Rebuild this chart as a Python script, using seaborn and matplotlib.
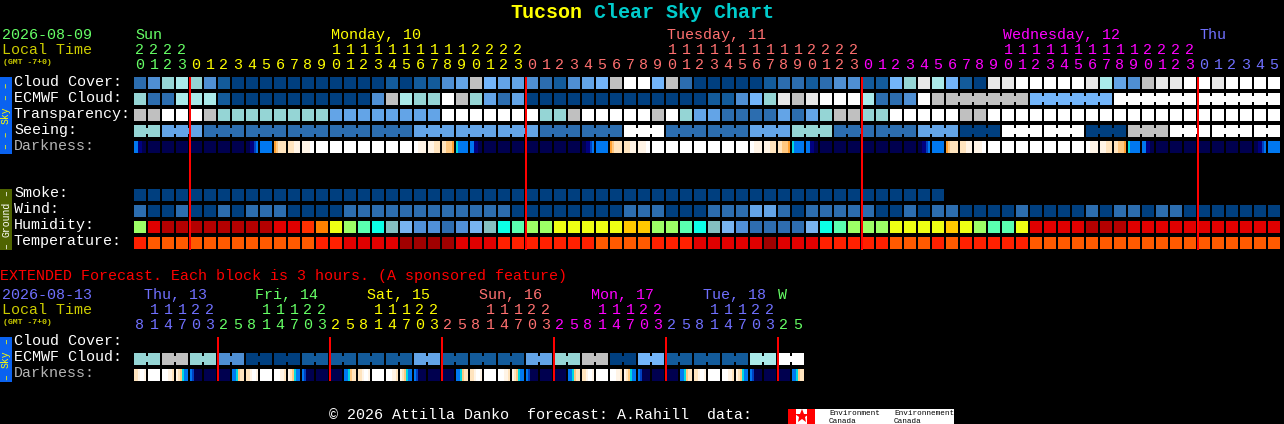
import numpy as np
import matplotlib
matplotlib.use("Agg")
import matplotlib.pyplot as plt
from matplotlib.colors import ListedColormap
from matplotlib.patches import Rectangle
import seaborn as sns

# Sky levels: 0 = dark blue (clear) ... 10 = white (overcast)
sky_colors = ["#003F7F", "#135B9B", "#2C6DAF", "#4F8FD3", "#63A4E7", "#73B5FA",
              "#95D5D5", "#AAEAEA", "#C0C0C0", "#E8E8E8", "#FFFFFF"]
humidity_colors = ["#B40000", "#E00000", "#FF3000", "#FF8000", "#FFC800", "#EEFF14", "#9DFF66",
                   "#5AFFB0", "#0CFFE6", "#84BFC0", "#78B4F0", "#5090D8", "#2E6DB0"]
temperature_colors = ["#A00000", "#E00000", "#FF2000", "#FF5A00"]
darkness_colors = ["#00004F", "#000080", "#0040C0", "#0078F0", "#00D8E0",
                   "#FFA030", "#FFC880", "#FFE4BE", "#FFF4E6", "#FFFFFF"]

main_hours = [20, 21, 22, 23,
              0, 1, 2, 3, 4, 5, 6, 7, 8, 9, 10, 11, 12, 13, 14, 15, 16, 17, 18, 19, 20, 21, 22, 23,
              0, 1, 2, 3, 4, 5, 6, 7, 8, 9, 10, 11, 12, 13, 14, 15, 16, 17, 18, 19, 20, 21, 22, 23,
              0, 1, 2, 3, 4, 5, 6, 7, 8, 9, 10, 11, 12, 13, 14, 15, 16, 17, 18, 19, 20, 21, 22, 23,
              0, 1, 2, 3, 4, 5]
ext_hours = [8, 11, 14, 17, 20, 23,
             2, 5, 8, 11, 14, 17, 20, 23,
             2, 5, 8, 11, 14, 17, 20, 23,
             2, 5, 8, 11, 14, 17, 20, 23,
             2, 5, 8, 11, 14, 17, 20, 23,
             2, 5, 8, 11, 14, 17, 20, 23,
             2, 5]

main_day_labels = ["Sun", "Monday, 10", "Tuesday, 11", "Wednesday, 12", "Thu"]
main_day_x = [135, 331, 667, 1003, 1199]
main_day_colors = ["#66FF66", "#FFFF00", "#FF7070", "#FF00FF", "#7070FF"]
ext_day_labels = ["Thu, 13", "Fri, 14", "Sat, 15", "Sun, 16", "Mon, 17", "Tue, 18", "W"]
ext_day_x = [144, 255, 367, 479, 591, 703, 778]
ext_day_colors = ["#7070FF", "#66FF66", "#FFFF00", "#FF7070", "#FF00FF", "#7070FF", "#66FF66"]

cloud_cover = [2, 3, 6, 7, 6, 3, 1, 0, 0, 0, 0, 0, 0, 0, 0, 0, 0, 0, 1, 0, 1,
               1, 3, 4, 8, 5, 4, 4, 3, 2, 1, 3, 4, 5, 8, 10, 10, 5, 8, 2, 0, 0, 0, 0, 0, 1, 2, 2, 1, 2, 3, 3,
               1, 1, 5, 6, 9, 7, 5, 1, 0, 9, 9, 10, 10, 10, 10, 10, 9, 7, 4, 3, 8, 9, 9, 10,
               10, 9, 10, 10, 10, 10]
ecmwf_cloud = [6, 2, 2, 7, 7, 7, 1, 0, 0, 0, 0, 0, 0, 0, 0, 0, 0, 3, 8, 7, 6,
               6, 10, 8, 6, 4, 2, 4, 0, 0, 0, 0, 0, 0, 0, 0, 0, 0, 0, 0, 0, 1, 1, 3, 5, 6, 9, 8, 9, 10, 10, 10,
               7, 2, 2, 3, 10, 8, 8, 8, 8, 8, 8, 8, 5, 5, 5, 5, 5, 5, 10, 10, 10, 10, 10, 10,
               10, 10, 10, 10, 10, 10]
transparency = [8, 8, 10, 10, 10, 8, 6, 6, 6, 6, 6, 6, 6, 6, 4, 4, 4, 4, 4, 4, 4,
                4, 10, 10, 10, 10, 10, 10, 10, 6, 6, 8, 10, 10, 10, 10, 10, 8, 10, 6, 4, 4, 2, 2, 2, 2, 4, 2, 4, 6, 8, 8,
                6, 6, 10, 10, 10, 10, 10, 8, 8, 10, 10, 10, 10, 10, 10, 10, 10, 10, 10, 10, 10, 10, 10, 10,
                10, 10, 10, 10, 10, 10]
seeing = [6, 6, 4, 4, 4, 2, 2, 2, 2, 2, 2, 2, 2, 2, 2, 2, 2, 2, 2, 2, 4,
          4, 4, 4, 4, 4, 4, 4, 4, 2, 2, 2, 2, 2, 2, 10, 10, 10, 2, 2, 2, 2, 2, 2, 4, 4, 4, 6, 6, 6, 2, 2,
          2, 2, 2, 2, 4, 4, 4, 0, 0, 0, 10, 10, 10, 10, 10, 10, 0, 0, 0, 8, 8, 8, 10, 10,
          10, 10, 10, 10, 10, 10]
seeing_runs = [2, 3, 3, 3, 3, 3, 3, 3, 3, 3, 3, 3, 3, 3, 3, 3, 3, 3, 3, 3, 3, 3, 3, 3, 3, 3, 3, 2]
ecmwf_runs = [1, 1, 1, 1, 1, 1, 1, 1, 1, 1, 1, 1, 1, 1, 1, 1, 1, 1, 1, 1, 1, 1, 1, 1, 1, 1, 1, 1, 1,
              1, 1, 1, 1, 1, 1, 1, 1, 1, 1, 1, 1, 1, 1, 1, 1, 1, 1, 1, 1, 1, 1, 1, 1, 1, 1, 1, 1, 1,
              6, 6, 6, 6]

# Darkness is sampled six times across each block, the blocks fade through dusk and dawn
darkness = ["331100", "000000", "000000", "000000", "000000", "000000", "000000", "000000",
            "001123", "333333", "567777", "777888", "888899", "999999", "999999", "999999",
            "999999", "999999", "999999", "999999", "998888", "888777", "776665", "433333",
            "331100", "000000", "000000", "000000", "000000", "000000", "000000", "000000",
            "001123", "333333", "567777", "777888", "888899", "999999", "999999", "999999",
            "999999", "999999", "999999", "999999", "998888", "888777", "776665", "433333",
            "331100", "000000", "000000", "000000", "000000", "000000", "000000", "000000",
            "001123", "333333", "567777", "777888", "888899", "999999", "999999", "999999",
            "999999", "999999", "999999", "999999", "998888", "888777", "776665", "433333",
            "331100", "000000", "000000", "000000", "000000", "000000", "000000", "000000",
            "001123", "333333"]

smoke = [0] * 58
wind = [2, 0, 0, 2, 0, 0, 2, 0, 2, 2, 2, 0, 0, 0, 0, 2, 2, 2, 2, 2, 2,
        2, 2, 2, 2, 2, 2, 0, 0, 0, 0, 0, 0, 0, 0, 2, 2, 2, 0, 0, 0, 2, 2, 2, 4, 4, 2, 0, 2, 2, 2, 2,
        2, 0, 0, 2, 0, 2, 2, 0, 0, 0, 0, 2, 0, 0, 0, 0, 2, 0, 2, 2, 0, 2, 2, 0,
        0, 0, 0, 0, 0, 0]
humidity = [6, 1, 0, 0, 0, 0, 0, 0, 0, 0, 1, 1, 2, 3, 5, 6, 7, 8, 9, 10, 11,
            11, 12, 11, 10, 9, 8, 7, 6, 6, 5, 5, 5, 5, 5, 4, 4, 6, 6, 7, 8, 9, 10, 11, 12, 12, 12, 12, 10, 8, 7, 6,
            6, 6, 5, 5, 5, 5, 4, 5, 6, 7, 7, 5, 1, 1, 1, 1, 0, 0, 0, 1, 1, 1, 1, 1,
            1, 1, 1, 1, 1, 1]
temperature = [2, 3, 3, 3, 3, 3, 3, 3, 3, 3, 3, 3, 3, 2, 2, 1, 1, 1, 1, 0, 0,
               0, 0, 1, 1, 1, 2, 2, 2, 2, 2, 2, 2, 3, 3, 3, 3, 2, 2, 2, 1, 1, 1, 1, 1, 0, 1, 1, 1, 2, 2, 2,
               2, 2, 3, 3, 3, 2, 3, 2, 2, 2, 2, 2, 3, 3, 3, 3, 3, 3, 3, 3, 3, 3, 3, 3,
               3, 3, 3, 3, 3, 3]

ext_ecmwf = [6, 6, 8, 8, 6, 6, 3, 3, 0, 0, 0, 0, 1, 1, 1, 1, 1, 1, 1, 1, 4, 4, 1, 1,
             1, 1, 1, 1, 4, 4, 6, 6, 8, 8, 0, 0, 5, 5, 1, 1, 1, 1, 1, 1, 7, 7, 10, 10]
ext_runs = [2, 2, 2, 2, 2, 2, 2, 2, 2, 2, 2, 2, 2, 2, 2, 2, 2, 2, 2, 2, 2, 2, 2, 2]
ext_darkness = ["778998", "999999", "999887", "876433", "320000", "000000", "000000", "334677",
                "778998", "999999", "999887", "876433", "320000", "000000", "000000", "334677",
                "778998", "999999", "999887", "876433", "320000", "000000", "000000", "334677",
                "778998", "999999", "999887", "876433", "320000", "000000", "000000", "334677",
                "778998", "999999", "999887", "876433", "320000", "000000", "000000", "334677",
                "778998", "999999", "999887", "876433", "320000", "000000", "000000", "334677"]

W, H = 1284, 424
X0, STEP = 134, 14
TXT = 10.8

sns.set_theme(style="white")
plt.rcParams["font.family"] = "Liberation Mono"
fig = plt.figure(figsize=(W / 100, H / 100), dpi=100, facecolor="black")

# Pixel coordinate layer for the red day lines and side bars
px = fig.add_axes([0, 0, 1, 1], zorder=5)
px.set_xlim(0, W)
px.set_ylim(H, 0)
px.axis("off")
px.patch.set_alpha(0)

# Same for the texts, one pixel higher so the baselines sit right
tx = fig.add_axes([0, 0, 1, 1], zorder=6)
tx.set_xlim(0, W)
tx.set_ylim(H + 1, 1)
tx.axis("off")
tx.patch.set_alpha(0)


def block_row(values, colors, top, runs=None):
    """One row of blocks, 12px high with 2px gaps, drawn by seaborn."""
    total = len(main_hours) if len(values) > 48 else len(ext_hours)
    data = np.full((1, total), np.nan)
    data[0, :len(values)] = values
    ax = fig.add_axes([(X0 - 1) / W, 1 - (top + 13) / H, total * STEP / W, 14 / H], facecolor="black")
    sns.heatmap(data, ax=ax, cmap=ListedColormap(colors), vmin=-0.5, vmax=len(colors) - 0.5,
                cbar=False, linewidths=1.44, linecolor="black", xticklabels=False, yticklabels=False)
    # linked blocks have a small bridge over the gap
    if runs is not None:
        start = 0
        for run in runs:
            for col in range(start, start + run - 1):
                ax.add_patch(Rectangle((col + 1 - 1 / STEP, 0.5 - 3 / 14), 2 / STEP, 6 / 14,
                                       facecolor=colors[values[col]], linewidth=0, zorder=3))
            start += run


def darkness_row(blocks, top):
    """Darkness row: six 2px samples per block and an empty 2px gap."""
    data = np.full((1, len(blocks) * 7), np.nan)
    for i, block in enumerate(blocks):
        data[0, i * 7:i * 7 + 6] = [int(ch) for ch in block]
    ax = fig.add_axes([X0 / W, 1 - (top + 12) / H, len(blocks) * STEP / W, 12 / H], facecolor="black")
    sns.heatmap(data, ax=ax, cmap=ListedColormap(darkness_colors), vmin=-0.5, vmax=9.5,
                cbar=False, xticklabels=False, yticklabels=False)


def hour_labels(hours, colors, y_tens, y_ones):
    day = 0
    for col, hour in enumerate(hours):
        if col > 0 and hour < hours[col - 1]:
            day += 1
        x = X0 + col * STEP + 6
        if hour >= 10:
            tx.text(x, y_tens, str(hour // 10), color=colors[day], fontsize=TXT, ha="center", va="baseline")
        tx.text(x, y_ones, str(hour % 10), color=colors[day], fontsize=TXT, ha="center", va="baseline")


def day_lines(hours, y0, y1):
    # 2px red line where the day changes
    for c in range(1, len(hours)):
        if hours[c] < hours[c - 1]:
            px.add_patch(Rectangle((X0 + c * STEP - 1, y0), 2, y1 - y0, facecolor="#FF0000", linewidth=0))


def side_bar(y0, y1, color, text_color, labels):
    px.add_patch(Rectangle((0, y0), 12, y1 - y0, facecolor=color, linewidth=0))
    for label, y in labels:
        px.text(6, y, label, rotation=90, color=text_color, fontsize=7, ha="center", va="center")


# Main forecast
block_row(cloud_cover, sky_colors, 77)
block_row(ecmwf_cloud, sky_colors, 93, ecmwf_runs)
block_row(transparency, sky_colors, 109)
block_row(seeing, sky_colors, 125, seeing_runs)
darkness_row(darkness, 141)
block_row(smoke, sky_colors, 189)
block_row(wind, sky_colors, 205)
block_row(humidity, humidity_colors, 221)
block_row(temperature, temperature_colors, 237)

# Extended forecast
block_row(ext_ecmwf, sky_colors, 353, ext_runs)
darkness_row(ext_darkness, 369)

hour_labels(main_hours, main_day_colors, 55, 70)
hour_labels(ext_hours, ext_day_colors, 315, 330)
day_lines(main_hours, 77, 250)
day_lines(ext_hours, 337, 381)

for label, x, color in zip(main_day_labels, main_day_x, main_day_colors):
    tx.text(x, 40, label, color=color, fontsize=TXT, va="baseline")
for label, x, color in zip(ext_day_labels, ext_day_x, ext_day_colors):
    tx.text(x, 300, label, color=color, fontsize=TXT, va="baseline")

# Title
tx.text(510, 19, "Tucson", color="#FFFF00", fontsize=14.4, fontweight="bold", va="baseline")
tx.text(594, 19, "Clear Sky Chart", color="#00CCCC", fontsize=14.4, fontweight="bold", va="baseline")

# Left hand headers
tx.text(2, 40, "2026-08-09", color="#66FF66", fontsize=TXT, va="baseline")
tx.text(2, 55, "Local Time", color="#CCCC00", fontsize=TXT, va="baseline")
tx.text(3, 65, "(GMT -7+0)", color="#CCCC00", fontsize=5.9, fontweight="bold", va="baseline")
tx.text(0, 281, "EXTENDED Forecast. Each block is 3 hours. (A sponsored feature)",
        color="#FF0000", fontsize=TXT, va="baseline")
tx.text(2, 300, "2026-08-13", color="#7070FF", fontsize=TXT, va="baseline")
tx.text(2, 315, "Local Time", color="#CCCC00", fontsize=TXT, va="baseline")
tx.text(3, 325, "(GMT -7+0)", color="#CCCC00", fontsize=5.9, fontweight="bold", va="baseline")

row_labels = [("Cloud Cover:", 87, "white"), ("ECMWF Cloud:", 103, "white"), ("Transparency:", 119, "white"),
              ("Seeing:", 135, "white"), ("Darkness:", 151, "#B4B4B4"), ("Smoke:", 198, "white"),
              ("Wind:", 214, "white"), ("Humidity:", 230, "white"), ("Temperature:", 246, "white"),
              ("Cloud Cover:", 346, "white"), ("ECMWF Cloud:", 362, "white"), ("Darkness:", 378, "#B4B4B4")]
for label, y, color in row_labels:
    tx.text(14, y, label, color=color, fontsize=TXT, va="baseline")

side_bar(77, 154, "#0A62F0", "#FFFF00", [("\u2013 \u2013", 91), ("Sky", 115), ("\u2013 \u2013", 140)])
side_bar(189, 250, "#4F6400", "white", [("\u2013", 193), ("Ground", 219), ("\u2013", 246)])
side_bar(337, 382, "#0A62F0", "#FFFF00", [("\u2013", 341), ("Sky", 359), ("\u2013", 377)])

# Footer with the sponsor logos
tx.text(329, 420, "\u00a9 2026 Attilla Danko  forecast: A.Rahill  data:", color="white",
        fontsize=TXT, va="baseline")
px.add_patch(Rectangle((788, 409), 166, 15, facecolor="white", linewidth=0))
px.add_patch(Rectangle((788, 409), 8, 15, facecolor="#FF0000", linewidth=0))
px.add_patch(Rectangle((807, 409), 8, 15, facecolor="#FF0000", linewidth=0))
px.plot([801.5], [416], marker="*", markersize=10, color="#FF0000", markeredgewidth=0)
for x, top_word in [(829, "Environment"), (894, "Environnement")]:
    px.text(x, 415, top_word, color="black", fontsize=5.5, va="baseline")
    px.text(x, 423, "Canada", color="black", fontsize=5.5, va="baseline")

fig.savefig("out.png", dpi=100, facecolor="black")
